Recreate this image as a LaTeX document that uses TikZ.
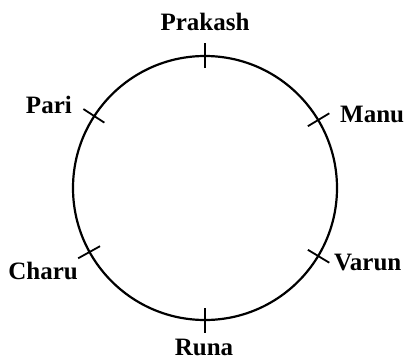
\documentclass[tikz,border=0pt]{standalone}
\usepackage{fontspec}
\setmainfont{Liberation Serif}
\usepackage{tikz}
\usetikzlibrary{calc}

\begin{document}
\begin{tikzpicture}[
    x=1pt, y=1pt,
    ring/.style={draw=black, line width=2.2pt},
    seattick/.style={draw=black, line width=1.8pt},
    person/.style={inner sep=0pt, font=\fontsize{25}{30}\selectfont\bfseries}
]
    \useasboundingbox (0,0) rectangle (406,360);
    \coordinate (c) at (205,172);
    \draw[ring] (c) circle (132pt);

    % seat marks on the ring
    \foreach \ang/\nm in {90/prakash, 31/manu, -31/varun, -90/runa, 209/charu, 147/pari} {
        \coordinate (\nm) at ($(c)+(\ang:132pt)$);
        \draw[seattick] ($(c)+(\ang:120pt)$) -- ($(c)+(\ang:145pt)$);
    }

    \node[person, anchor=base] (lprakash) at (205,330) {Prakash};
    \node[person, anchor=base west] (lmanu) at (340,238) {Manu};
    \node[person, anchor=base west] (lvarun) at (334,90) {Varun};
    \node[person, anchor=base] (lruna) at (204,5) {Runa};
    \node[person, anchor=base east] (lcharu) at (78,81) {Charu};
    \node[person, anchor=base east] (lpari) at (72,247) {Pari};
\end{tikzpicture}
\end{document}
